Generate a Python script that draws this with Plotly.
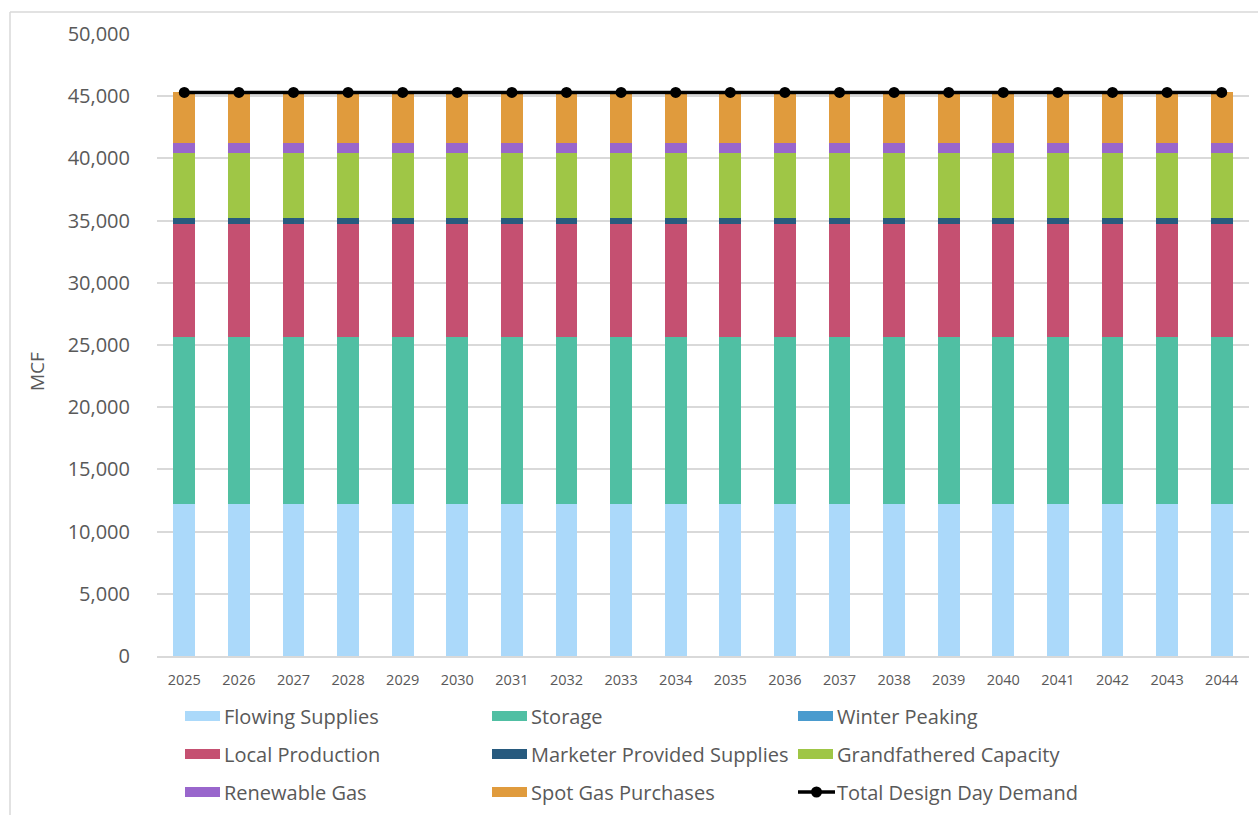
import plotly.graph_objects as go

# ---- data -------------------------------------------------------------
years = [str(y) for y in range(2025, 2045)]
n = len(years)

flowing_supplies = [12190] * n
storage = [13450] * n
winter_peaking = [0] * n
local_production = [9110] * n
marketer_supplies = [480] * n
grandfathered_capacity = [5230] * n
renewable_gas = [780] * n
spot_gas_purchases = [4060] * n
total_design_day_demand = [45300] * n

y_ticks = list(range(0, 50001, 5000))

# ---- styling ----------------------------------------------------------
FONT = "Open Sans"
GREY_TEXT = "#595959"
GRID = "#D9D9D9"

series = [
    ("Flowing Supplies", flowing_supplies, "#ABD9FA"),
    ("Storage", storage, "#50BFA3"),
    ("Winter Peaking", winter_peaking, "#4A9BCE"),
    ("Local Production", local_production, "#C55071"),
    ("Marketer Provided Supplies", marketer_supplies, "#275A7E"),
    ("Grandfathered Capacity", grandfathered_capacity, "#9FC646"),
    ("Renewable Gas", renewable_gas, "#9966CC"),
    ("Spot Gas Purchases", spot_gas_purchases, "#E09B3D"),
]

fig = go.Figure()
for name, vals, color in series:
    fig.add_trace(go.Bar(
        x=years, y=vals, name=name,
        marker=dict(color=color, line=dict(width=0)),
    ))

fig.add_trace(go.Scatter(
    x=years, y=total_design_day_demand, name="Total Design Day Demand",
    mode="lines+markers",
    line=dict(color="#000000", width=3.5),
    marker=dict(color="#000000", size=11),
))

# ---- layout (pixel geometry of the plot area) -------------------------
W, H = 1258, 815
L, R, T, B = 157, 9, 34, 159
plot_w = W - L - R
plot_h = H - T - B


def px(xp):
    return (xp - L) / plot_w


def py(yp):
    return (H - B - yp) / plot_h


fig.update_layout(
    width=W, height=H,
    margin=dict(l=L, r=R, t=T, b=B, pad=0),
    barmode="stack",
    bargap=0.6,
    showlegend=False,
    plot_bgcolor="white",
    paper_bgcolor="white",
    font=dict(family=FONT, color=GREY_TEXT),
)

fig.update_xaxes(
    type="category",
    range=[-0.5, n - 0.5],
    showgrid=False,
    showline=True, linecolor=GRID, linewidth=1.5,
    ticks="", tickfont=dict(size=14.5, color=GREY_TEXT, family=FONT),
    ticklabelstandoff=10,
)
fig.update_yaxes(
    range=[0, 50000],
    tickvals=y_ticks,
    tickformat=",d",
    showgrid=True, gridcolor=GRID, gridwidth=1.5,
    zeroline=False, showline=False,
    ticks="", tickfont=dict(size=20, color=GREY_TEXT, family=FONT),
    ticklabelstandoff=26,
)

annotations = []
shapes = []

# axis title
annotations.append(dict(
    text="MCF", xref="paper", yref="paper",
    x=px(37), y=py(372), xanchor="center", yanchor="middle",
    textangle=-90, showarrow=False,
    font=dict(size=19, color=GREY_TEXT, family=FONT),
))

# legend: three columns, three rows
col_x = [185, 492, 798]
row_y = [716, 754, 792]
legend_items = [(name, color, "bar") for name, _, color in series]
legend_items.append(("Total Design Day Demand", "#000000", "line"))

for i, (name, color, kind) in enumerate(legend_items):
    cx = col_x[i % 3]
    cy = row_y[i // 3]
    if kind == "bar":
        shapes.append(dict(
            type="rect", xref="paper", yref="paper",
            x0=px(cx), x1=px(cx + 35), y0=py(cy + 5), y1=py(cy - 5),
            fillcolor=color, line=dict(width=0),
        ))
    else:
        shapes.append(dict(
            type="line", xref="paper", yref="paper",
            x0=px(cx), x1=px(cx + 37), y0=py(cy), y1=py(cy),
            line=dict(color=color, width=3.5),
        ))
        shapes.append(dict(
            type="circle", xref="paper", yref="paper",
            x0=px(cx + 13), x1=px(cx + 24), y0=py(cy + 5.5), y1=py(cy - 5.5),
            fillcolor=color, line=dict(width=0),
        ))
    annotations.append(dict(
        text=name, xref="paper", yref="paper",
        x=px(cx + 37), y=py(cy), xanchor="left", yanchor="middle",
        showarrow=False,
        font=dict(size=20, color=GREY_TEXT, family=FONT),
    ))

# chart frame (top and left edges)
shapes.append(dict(
    type="line", xref="paper", yref="paper",
    x0=px(10), x1=px(W), y0=py(12), y1=py(12),
    line=dict(color="#D9D9D9", width=1.5),
))
shapes.append(dict(
    type="line", xref="paper", yref="paper",
    x0=px(10), x1=px(10), y0=py(12), y1=py(H),
    line=dict(color="#D9D9D9", width=1.5),
))

fig.update_layout(annotations=annotations, shapes=shapes)

fig.write_html("out.html")
